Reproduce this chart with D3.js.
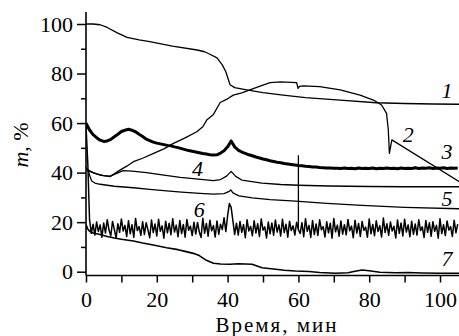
<!DOCTYPE html>
<html><head><meta charset="utf-8">
<script src="https://cdn.jsdelivr.net/npm/d3@7"></script>
<style>body{margin:0;background:#fff}</style>
</head><body>
<svg id="c" width="459" height="336"></svg>
<script>
// ---- data (time, min ; mass, %) ----
const xTicks = [0, 20, 40, 60, 80, 100];
const yTicks = [0, 20, 40, 60, 80, 100];
const xLabel = "Время, мин";

const t1 = [0, 2, 4, 6, 8.7, 11.6, 15, 18, 24.4, 31.4, 33.5, 35, 37, 38.5, 39.5, 40.7, 42, 45.4, 50, 55.7, 62, 71.8, 82, 90, 98, 105.5];
const v1 = [100, 100, 99.7, 98.6, 96.5, 94.6, 93.6, 92.9, 91.1, 89.5, 88.8, 87.8, 86.3, 83.5, 80.7, 75.5, 74.3, 73.4, 72.3, 71.3, 70.3, 69.3, 68.2, 67.9, 67.7, 67.6];

const t2 = [0, 2, 4, 6.8, 9.6, 11.5, 13.4, 16, 19.1, 22, 24.7, 28, 31.3, 33, 34.1, 36, 37.9, 40, 41.6, 44, 46.3, 49, 52, 55, 59.5, 59.9, 60.3, 61.4, 66, 71.8, 77.4, 81.2, 83.5, 84.9, 85.4, 85.7, 86.4, 105.5];
const v2 = [41.5, 40, 39, 38.4, 41, 42.6, 44.4, 45.8, 47.8, 49.6, 51.8, 54, 56.5, 58.5, 61.2, 63.5, 68.3, 69.8, 71.3, 72.2, 73.4, 74.8, 76.3, 76.6, 76.3, 74, 74.8, 75, 74.7, 73.4, 71.3, 69.3, 67.3, 63.9, 57.2, 47.8, 53.2, 36.3];

const v3 = [60.0, 57.2, 55.3, 54.1, 53.1, 52.6, 52.8, 53.4, 54.5, 55.5, 56.6, 57.1, 57.5, 57.1, 56.5, 55.5, 54.6, 53.5, 52.9, 52.3,
  51.9, 51.6, 51.3, 51.0, 50.8, 50.4, 50.1, 49.7, 49.3, 48.9, 48.6, 48.3, 48.0, 47.7, 47.5, 47.2, 47.1, 47.2, 47.9, 48.8,
  50.4, 52.8, 50.4, 49.1, 48.3, 47.8, 47.2, 46.8, 46.3, 45.9, 45.5, 45.2, 44.8, 44.5, 44.2, 44.0, 43.7, 43.5, 43.3, 43.1,
  42.9, 42.8, 42.6, 42.5, 42.3, 42.3, 42.1, 42.0, 41.9, 41.9, 41.8, 41.8, 41.7, 41.9, 41.7, 41.8, 41.6, 41.9, 41.7, 41.8,
  41.7, 41.9, 41.6, 41.8, 41.7, 41.9, 41.7, 41.8, 41.6, 41.9, 41.7, 41.8, 41.7, 42.0, 41.7, 41.9, 41.8, 42.0, 41.7, 41.9,
  41.8, 42.0, 41.7, 41.9, 41.8, 41.9];
const step3 = 1;

const t4 = [0, 1, 3, 5, 6.8, 8.5, 10.5, 13, 17.1, 22, 26.6, 31, 36, 38, 39.7, 41, 42.3, 44, 49.7, 55, 60, 68.6, 80, 90, 105.5];
const v4 = [41.5, 40.5, 39.5, 38.8, 38.6, 39.6, 40.8, 40.6, 40, 39, 38.1, 37.5, 36.8, 37.2, 38.6, 40.5, 38.5, 37, 35.8, 35.2, 34.9, 34.6, 34.4, 34.3, 34.3];

const t5 = [0, 0.5, 1, 1.6, 2.5, 4, 8, 13.4, 18, 22.8, 27, 32.2, 36, 39, 40.3, 40.9, 41.5, 43.2, 47, 52, 59.2, 68, 78, 90, 105.5];
const v5 = [42, 41.3, 39, 36.6, 35.8, 35.3, 34.5, 33.9, 33.2, 32.6, 32.1, 31.6, 31.3, 31.5, 32.3, 33, 31.8, 30.6, 29.8, 29.1, 28.5, 27.6, 26.8, 26, 25.4];

const v6 = [59, 44, 21, 15.5, 19.2, 14.8, 20.1, 16.2, 18.9, 13.9, 19.7, 15.6, 21.0, 16.8, 14.5, 20.3, 17.1, 13.6, 19.4, 15.9,
  21.3, 16.4, 18.7, 14.2, 20.6, 15.3, 19.0, 13.8, 21.5, 16.6, 18.2, 14.7, 20.2, 15.0, 19.8, 16.9, 13.7, 20.9, 15.8, 19.3,
  14.4, 21.2, 16.3, 18.5, 13.5, 20.4, 15.7, 19.6, 14.9, 21.4, 16.0, 18.8, 14.1, 20.7, 15.4, 19.1, 13.9, 21.1, 16.7, 18.4,
  14.6, 20.0, 15.2, 19.9, 16.1, 13.8, 21.6, 15.5, 19.5, 14.3, 20.8, 16.5, 18.6, 14.0, 20.5, 15.1, 19.2, 17.0, 21.8, 16.2,
  22.5, 27.5, 26.0, 20.5, 15.0, 19.6, 14.8, 20.3, 15.9, 19.0, 13.7, 21.0, 16.4, 18.3, 14.5, 20.6, 15.6, 19.4, 14.2, 21.3,
  16.8, 18.1, 13.6, 20.1, 15.3, 19.7, 14.7, 20.9, 16.0, 18.9, 14.4, 21.2, 15.8, 19.2, 13.9, 20.4, 16.6, 18.5, 14.8, 20.0,
  17.0, 15.4, 19.8, 14.1, 21.4, 16.3, 18.7, 13.8, 20.7, 15.0, 19.3, 14.6, 21.0, 16.9, 18.2, 14.0, 20.2, 15.7, 19.6, 13.5,
  21.5, 16.1, 18.8, 14.3, 20.5, 15.2, 19.0, 14.9, 21.1, 16.5, 18.4, 13.7, 20.8, 15.6, 19.5, 14.2, 20.3, 16.7, 18.0, 13.9,
  21.3, 15.3, 19.1, 14.5, 20.6, 16.2, 18.6, 14.0, 21.7, 15.8, 19.4, 14.7, 20.1, 16.4, 18.3, 13.6, 20.9, 15.5, 19.7, 14.4,
  21.2, 16.0, 18.9, 14.1, 20.4, 15.1, 19.3, 14.8, 21.0, 16.6, 18.1, 13.8, 20.7, 15.9, 19.8, 14.3, 20.2, 16.3, 18.7, 13.5,
  21.4, 15.4, 19.0, 14.6, 20.5, 16.8, 18.2, 14.2, 20.8, 15.7, 19.2];
const step6 = 0.5;
const glitchT = [60, 60];
const glitchV = [17, 47];

const t7 = [0, 0.5, 1, 2, 4, 6, 8, 10, 13.4, 16, 19, 22.8, 26, 28, 30.3, 32, 34, 36, 38, 40.7, 43, 46.9, 49.7, 53, 56, 59.2, 63, 66, 70.5, 74, 76, 78, 80, 83, 87.5, 91, 95, 100, 105.5];
const v7 = [19, 17.2, 16.3, 15.6, 15, 14.2, 13.6, 13.1, 12.4, 11.6, 10.8, 9.7, 8.9, 8.2, 7.4, 6.5, 4.6, 3.4, 3.1, 3.0, 3.2, 3.0, 1.6, 1.1, 0.6, 0.3, 0.1, -0.3, -0.6, -0.4, 0.2, 0.7, 0.4, -0.2, -0.4, -0.3, -0.5, -0.6, -0.6];

const curveNames = ["1", "2", "3", "4", "5", "6", "7"];
const labelX = [102, 91, 102, 31.5, 102, 32, 102];
const labelY = [70, 52.5, 45.5, 38.5, 26.5, 22, 2.5];

// ---- layout ----
const svg = d3.select("#c");
const L = 86, R = 459, T = 12, B = 275.5;
const x = d3.scaleLinear().domain([0, (R - L) / 3.54]).range([L, R]);
const y = d3.scaleLinear().domain([-(B - 271.7) / 2.477, 100 + (24 - T) / 2.477]).range([B, T]);
const serif = "Liberation Serif";

svg.append("clipPath").attr("id", "clip").append("rect")
  .attr("x", L).attr("y", T - 2).attr("width", R - L).attr("height", B - T + 2);

const line = d3.line().x(d => x(d[0])).y(d => y(d[1]));
const zipT = (t, v) => t.map((tt, i) => [tt, v[i]]);
const zipS = (step, v) => v.map((vv, i) => [i * step, vv]);

const g = svg.append("g").attr("clip-path", "url(#clip)");
const series = [
  {d: zipT(t1, v1), w: 1.3},
  {d: zipT(t2, v2), w: 1.3},
  {d: zipS(step3, v3), w: 3},
  {d: zipT(t4, v4), w: 1.3},
  {d: zipT(t5, v5), w: 1.3},
  {d: zipS(step6, v6), w: 1.5},
  {d: zipT(glitchT, glitchV), w: 1.3},
  {d: zipT(t7, v7), w: 1.6}
];
series.forEach(s => {
  g.append("path").attr("d", line(s.d)).attr("fill", "none")
    .attr("stroke", "#000").attr("stroke-width", s.w).attr("stroke-linejoin", "round");
});

// ---- axes ----
const yAxis = d3.axisLeft(y).tickValues(yTicks).tickSize(9).tickPadding(4).tickFormat(d3.format("d"));
const yMinor = d3.axisLeft(y).tickValues([10, 30, 50, 70, 90]).tickSize(5).tickFormat("");
const xAxis = d3.axisBottom(x).tickValues(xTicks).tickSize(7).tickPadding(9).tickFormat(d3.format("d"));
const xMinor = d3.axisBottom(x).tickValues([10, 30, 50, 70, 90]).tickSize(7).tickFormat("");

function style(sel) {
  sel.attr("font-family", serif).attr("font-size", 22);
  sel.select(".domain").attr("stroke", "#000").attr("stroke-width", 1.6);
  sel.selectAll(".tick line").attr("stroke", "#000").attr("stroke-width", 1.5);
  sel.selectAll(".tick text").attr("fill", "#000").attr("font-family", serif).attr("font-size", 22);
}
const gy = svg.append("g").attr("transform", `translate(${L},0)`).call(yAxis).call(style);
gy.select(".domain").attr("d", `M0,${B}V${T}`);
svg.append("g").attr("transform", `translate(${L},0)`).call(yMinor).call(style).select(".domain").remove();
const gx = svg.append("g").attr("transform", `translate(0,${B})`).call(xAxis).call(style);
gx.select(".domain").attr("d", `M${L},0H${R}`);
svg.append("g").attr("transform", `translate(0,${B})`).call(xMinor).call(style).select(".domain").remove();

// axis titles
svg.append("text").attr("x", 277).attr("y", 332).attr("text-anchor", "middle")
  .attr("font-family", serif).attr("font-size", 21).attr("letter-spacing", 2).text(xLabel);
const yt = svg.append("text").attr("transform", "translate(28,145) rotate(-90)")
  .attr("text-anchor", "middle").attr("font-family", serif).attr("font-size", 22);
yt.append("tspan").attr("font-style", "italic").text("m");
yt.append("tspan").text(", %");

// curve numbers
svg.append("g").selectAll("text").data(curveNames).join("text")
  .attr("x", (d, i) => x(labelX[i])).attr("y", (d, i) => y(labelY[i]))
  .attr("text-anchor", "middle").attr("font-family", serif).attr("font-style", "italic")
  .attr("font-size", 22).text(d => d);
</script>
</body></html>
